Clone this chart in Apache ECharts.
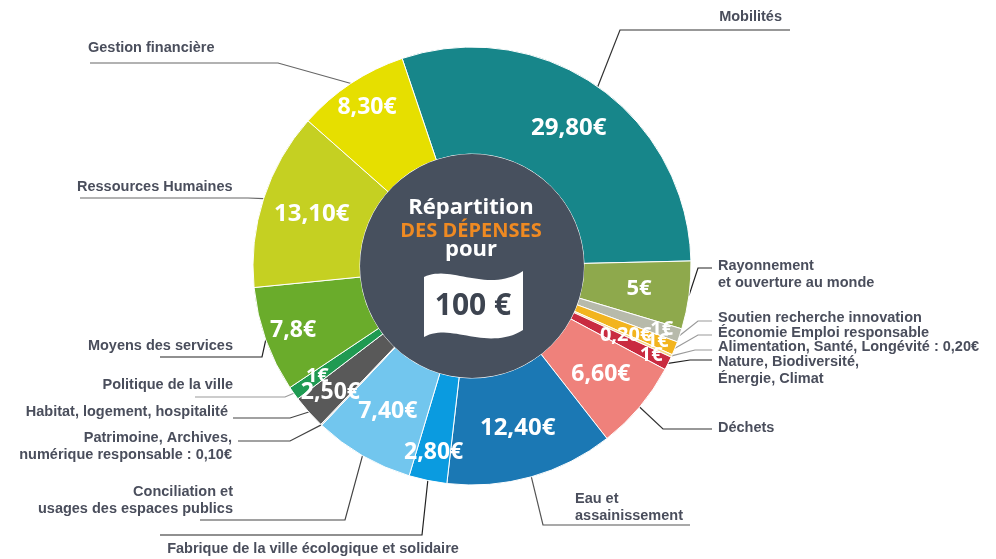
<!DOCTYPE html>
<html><head><meta charset="utf-8">
<script src="https://cdn.jsdelivr.net/npm/echarts@6/dist/echarts.min.js"></script>
<style>html,body{margin:0;padding:0;background:#fff}#c{width:996px;height:559px}</style>
</head><body><div id="c"></div>
<script>
// ---- data ----
const categories = [
  'Mobilités',
  'Rayonnement\net ouverture au monde',
  'Soutien recherche innovation',
  'Économie Emploi responsable',
  'Alimentation, Santé, Longévité : 0,20€',
  'Nature, Biodiversité,\nÉnergie, Climat',
  'Déchets',
  'Eau et\nassainissement',
  'Fabrique de la ville écologique et solidaire',
  'Conciliation et\nusages des espaces publics',
  'Patrimoine, Archives,\nnumérique responsable : 0,10€',
  'Habitat, logement, hospitalité',
  'Politique de la ville',
  'Moyens des services',
  'Ressources Humaines',
  'Gestion financière'
];
const values = [29.8, 5, 1, 1, 0.2, 1, 6.6, 12.4, 2.8, 7.4, 0.1, 2.5, 1, 7.8, 13.1, 8.3];
const valueLabels = ['29,80€', '5€', '1€', '1€', '0,20€', '1€', '6,60€', '12,40€', '2,80€', '7,40€', '', '2,50€', '1€', '7,8€', '13,10€', '8,30€'];
const centerTitle = ['Répartition', 'DES DÉPENSES', 'pour', '100 €'];

// ---- styles ----
const colors = ['#17868a', '#8ea94c', '#b7baab', '#f2b41f', '#f6d88a', '#c92b40', '#ef817b', '#1b78b4',
  '#0a9be0', '#72c6ee', '#d9d9d9', '#595959', '#1f9a52', '#6aac2b', '#c5d022', '#e6df00'];
const ringOf = ['mid', 'mid', 'edge', 'edge', 'mid', 'edge', 'mid', 'mid', 'outer', 'mid', 'none', 'outer', 'outer', 'outer', 'mid', 'outer'];
const fontOf = [24, 22, 20, 20, 20, 20, 23, 24, 23, 23, 22, 23, 20, 23, 24, 23];
const lineColors = ['#333', '#222', '#9a9a9a', '#9a9a9a', '#9a9a9a', '#222', '#333', '#555', '#222', '#444', '#444', '#444', '#9a9a9a', '#222', '#666', '#666'];
const outLayout = [
  {x: 782, y: 17, align: 'right', pts: [[620, 30], [790, 30]]},
  {x: 718, y: 274, align: 'left', pts: [[698, 268], [712, 268]]},
  {x: 718, y: 318, align: 'left', pts: [[698, 321], [712, 321]]},
  {x: 718, y: 333, align: 'left', pts: [[698, 335], [712, 335]]},
  {x: 718, y: 347, align: 'left', pts: [[695, 350], [712, 350]]},
  {x: 718, y: 370, align: 'left', pts: [[690, 360], [712, 360]]},
  {x: 718, y: 428, align: 'left', pts: [[663, 429], [712, 429]]},
  {x: 575, y: 507, align: 'left', pts: [[543, 525], [690, 525]]},
  {x: 313, y: 549, align: 'center', pts: [[422, 535], [160, 535]]},
  {x: 233, y: 500, align: 'right', pts: [[345, 520], [200, 520]]},
  {x: 232, y: 446, align: 'right', pts: [[290, 441], [238, 441]]},
  {x: 228, y: 412, align: 'right', pts: [[290, 418], [233, 418]]},
  {x: 233, y: 385, align: 'right', pts: [[285, 397], [195, 397]]},
  {x: 233, y: 346, align: 'right', pts: [[262, 357], [160, 357]]},
  {x: 77, y: 187, align: 'left', pts: [[248, 198], [80, 198]]},
  {x: 88, y: 48, align: 'left', pts: [[278, 63], [90, 63]]}
];
const CENTER = [472, 266];
const R_IN = 112, R_OUT = 219;
const START = 108.6;

function labelSeries(ring, radius) {
  return {
    type: 'pie', center: CENTER, radius: radius, startAngle: START, clockwise: true,
    silent: true, z: 5, avoidLabelOverlap: false, minShowLabelAngle: 0,
    itemStyle: {color: 'rgba(0,0,0,0)', borderWidth: 0},
    labelLine: {show: false},
    labelLayout: {hideOverlap: false, moveOverlap: null},
    label: {
      position: 'inside', color: '#fff', fontWeight: 'bold', fontFamily: '"Open Sans", sans-serif',
      overflow: 'none',
      formatter: p => valueLabels[p.dataIndex]
    },
    data: values.map((v, i) => ({
      value: v, name: categories[i],
      label: {show: ringOf[i] === ring, fontSize: fontOf[i]}
    }))
  };
}

// banknote outline (decoration)
function bez(p0, p1, p2, p3, n) {
  const out = [];
  for (let k = 0; k <= n; k++) {
    const t = k / n, u = 1 - t;
    out.push([u*u*u*p0[0] + 3*u*u*t*p1[0] + 3*u*t*t*p2[0] + t*t*t*p3[0],
              u*u*u*p0[1] + 3*u*u*t*p1[1] + 3*u*t*t*p2[1] + t*t*t*p3[1]]);
  }
  return out;
}
const notePts = bez([424, 277], [450, 264], [488, 294], [523, 271], 30)
  .concat(bez([523, 330], [488, 352], [450, 322], [424, 337], 30));

const chart = echarts.init(document.getElementById('c'), null, {renderer: 'canvas'});
chart.setOption({
  animation: false,
  backgroundColor: '#fff',
  series: [
    {
      type: 'pie', center: CENTER, radius: [R_IN, R_OUT], startAngle: START, clockwise: true,
      silent: true, z: 2, avoidLabelOverlap: false, minShowLabelAngle: 0,
      itemStyle: {borderColor: '#fff', borderWidth: 1},
      label: {
        show: true, position: 'outside', color: '#4a4e5c', fontSize: 14.5, fontWeight: 'bold',
        fontFamily: '"Liberation Sans", Arial, sans-serif', lineHeight: 17,
        formatter: '{b}'
      },
      labelLine: {show: true, length: 10, length2: 10, smooth: false, lineStyle: {width: 1.2}},
      labelLayout: function (p) {
        const L = outLayout[p.dataIndex];
        const s = (p.labelLinePoints && p.labelLinePoints[0]) || L.pts[0];
        return {x: L.x, y: L.y, align: L.align, verticalAlign: 'middle', hideOverlap: false,
          labelLinePoints: [s].concat(L.pts)};
      },
      data: values.map((v, i) => ({
        value: v, name: categories[i],
        itemStyle: {color: colors[i]},
        labelLine: {lineStyle: {color: lineColors[i]}}
      }))
    },
    labelSeries('mid', [R_IN, R_OUT]),
    labelSeries('outer', [152, 222]),
    labelSeries('edge', [172, 222]),
    {
      type: 'pie', center: CENTER, radius: [0, R_IN], silent: true, z: 3,
      label: {show: false}, labelLine: {show: false},
      itemStyle: {color: '#47505e'},
      data: [{value: 1, name: 'centre'}]
    }
  ],
  graphic: [
    {type: 'text', x: 471, y: 208, z: 100, style: {text: centerTitle[0], fill: '#fff',
      fontSize: 22, fontWeight: 'bold', fontFamily: '"Open Sans", sans-serif', align: 'center', verticalAlign: 'middle'}},
    {type: 'text', x: 471, y: 231, z: 100, style: {text: centerTitle[1], fill: '#ef8a22',
      fontSize: 20, fontWeight: 'bold', fontFamily: '"Open Sans", sans-serif', align: 'center', verticalAlign: 'middle'}},
    {type: 'text', x: 471, y: 250, z: 100, style: {text: centerTitle[2], fill: '#fff',
      fontSize: 22, fontWeight: 'bold', fontFamily: '"Open Sans", sans-serif', align: 'center', verticalAlign: 'middle'}},
    {type: 'polygon', z: 100, shape: {points: notePts}, style: {fill: '#fff'}},
    {type: 'text', x: 473, y: 306, z: 101, style: {text: centerTitle[3], fill: '#3d4450',
      fontSize: 30, fontWeight: 'bold', fontFamily: '"Open Sans", sans-serif', align: 'center', verticalAlign: 'middle'}}
  ]
});
</script>
</body></html>
